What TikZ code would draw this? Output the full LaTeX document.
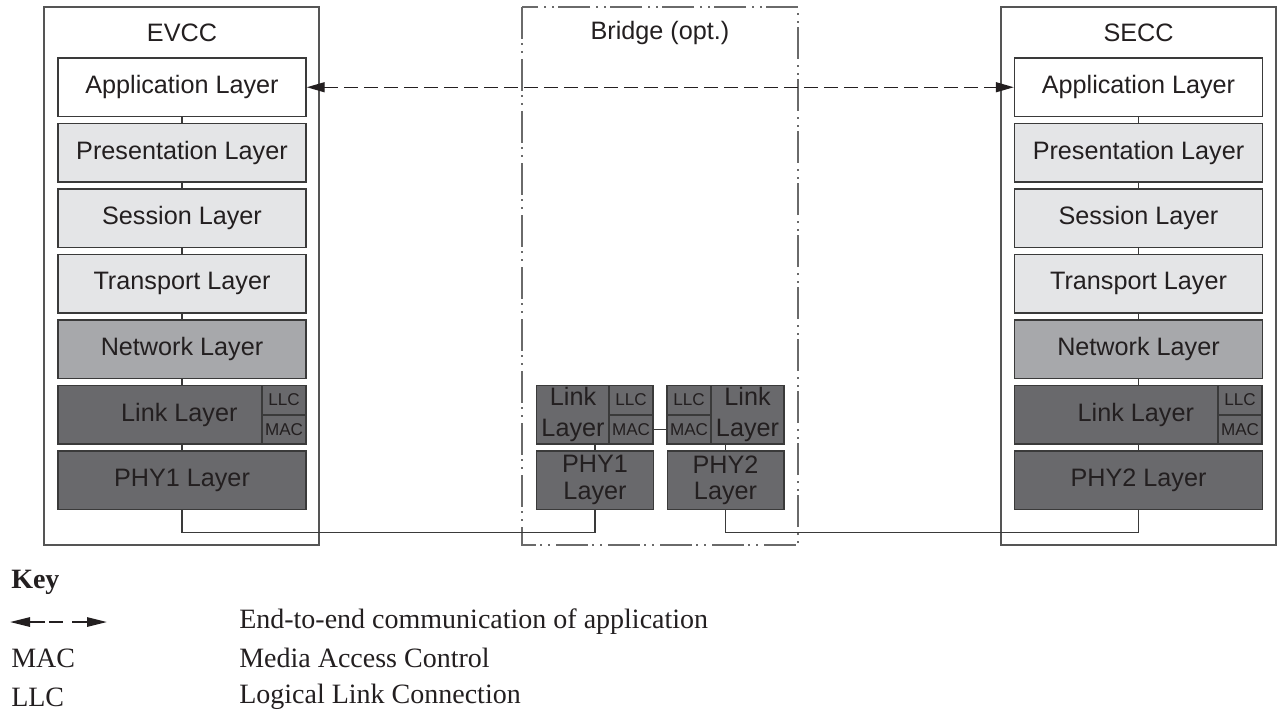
\documentclass[tikz,border=0pt]{standalone}
\usepackage{fontspec}
\setmainfont{Liberation Serif}
\newfontfamily\diagfont{Liberation Sans}
\usetikzlibrary{arrows.meta}
\definecolor{txt}{HTML}{231F20}
\definecolor{bord}{HTML}{3A3A3A}
\definecolor{outerc}{HTML}{555555}
\definecolor{bridgec}{HTML}{6A6A6A}
\definecolor{lgray}{HTML}{E4E5E7}
\definecolor{mgray}{HTML}{A7A8AB}
\definecolor{dgray}{HTML}{69696C}
\begin{document}
\begin{tikzpicture}[x=0.75pt,y=-0.75pt,
  bigfont/.style={font=\diagfont\fontsize{18.9}{22}\selectfont},
  layer/.style={draw=bord, line width=1.1pt, minimum width=186pt, minimum height=43.875pt, inner sep=0pt, bigfont, text=txt},
  applayer/.style={layer, fill=white},
  upperlayer/.style={layer, fill=lgray},
  netlayer/.style={layer, fill=mgray},
  lowlayer/.style={layer, fill=dgray},
  smallbox/.style={draw=bord, line width=1.1pt, fill=dgray, minimum width=33pt, minimum height=21.94pt, inner sep=0pt, text=txt, font=\diagfont\fontsize{12.8}{14}\selectfont},
  bridgebox/.style={draw=bord, line width=1.1pt, fill=dgray, minimum width=87.4pt, minimum height=43.875pt, inner sep=0pt, text=txt, bigfont, align=center},
  btext/.style={inner sep=0pt, text=txt, align=center, font=\diagfont\fontsize{18.9}{23}\selectfont},
  outerbox/.style={draw=outerc, line width=1pt},
  bridgeline/.style={draw=bridgec, line width=1.3pt, dash pattern=on 24pt off 3pt on 1.5pt off 4.5pt on 1.5pt off 4.5pt},
  conn/.style={draw=bord, line width=1pt},
  e2e/.style={draw=txt, line width=1.1pt, dash pattern=on 10pt off 5pt, {Triangle[length=13.5pt,width=7.5pt]}-{Triangle[length=13.5pt,width=7.5pt]}},
  keyline/.style={draw=txt, line width=1.4pt},
  keytext/.style={anchor=west, inner sep=0pt, text=txt, font=\fontsize{21}{24}\selectfont}
]
\useasboundingbox (0,0) rectangle (1280,713);

% outer boxes
\draw[outerbox] (44,7) rectangle (319,545);
\draw[outerbox] (1001,7) rectangle (1276,545);
\draw[bridgeline] (522,7) rectangle (798,545);

\node[bigfont, text=txt] (evcct) at (182,33) {EVCC};
\node[bigfont, text=txt] (secct) at (1138.5,33) {SECC};
\node[bigfont, text=txt] (bridget) at (660,33) {Bridge (opt.)};

% EVCC stack
\node[applayer]   (e1) at (182,87.25)  {Application Layer};
\node[upperlayer] (e2) at (182,152.75) {Presentation Layer};
\node[upperlayer] (e3) at (182,218.25) {Session Layer};
\node[upperlayer] (e4) at (182,283.75) {Transport Layer};
\node[netlayer]   (e5) at (182,349.25) {Network Layer};
\node[lowlayer]   (e6) at (182,414.75) {\hspace*{-4pt}Link Layer};
\node[lowlayer]   (e7) at (182,480.25) {PHY1 Layer};
\node[smallbox]   (ellc) at (284,400.1) {LLC};
\node[smallbox]   (emac) at (284,429.4) {MAC};

% SECC stack
\node[applayer]   (s1) at (1138.5,87.25)  {Application Layer};
\node[upperlayer] (s2) at (1138.5,152.75) {Presentation Layer};
\node[upperlayer] (s3) at (1138.5,218.25) {Session Layer};
\node[upperlayer] (s4) at (1138.5,283.75) {Transport Layer};
\node[netlayer]   (s5) at (1138.5,349.25) {Network Layer};
\node[lowlayer]   (s6) at (1138.5,414.75) {\hspace*{-4pt}Link Layer};
\node[lowlayer]   (s7) at (1138.5,480.25) {PHY2 Layer};
\node[smallbox]   (sllc) at (1240,400.1) {LLC};
\node[smallbox]   (smac) at (1240,429.4) {MAC};

% bridge stacks
\node[bridgebox] (bl1) at (595,414.75) {};
\node[bridgebox] (bp1) at (595,480.25) {PHY1\\[-2pt]Layer};
\node[smallbox]  (bllc1) at (631,400.1) {LLC};
\node[smallbox]  (bmac1) at (631,429.4) {MAC};
\node[btext]     (blt1) at (573,414.75) {Link\\Layer};

\node[bridgebox] (bl2) at (725.5,414.75) {};
\node[bridgebox] (bp2) at (725.5,480.25) {PHY2\\[-2pt]Layer};
\node[smallbox]  (bllc2) at (689,400.1) {LLC};
\node[smallbox]  (bmac2) at (689,429.4) {MAC};
\node[btext]     (blt2) at (747.5,414.75) {Link\\Layer};

% vertical connectors between layers
\foreach \a/\b in {e1/e2,e2/e3,e3/e4,e4/e5,e5/e6,e6/e7,s1/s2,s2/s3,s3/s4,s4/s5,s5/s6,s6/s7,bl1/bp1,bl2/bp2}
  \draw[conn] (\a.south) -- (\b.north);
\draw[conn] (bmac1.east) -- (bmac2.west);

% physical connections
\draw[conn] (e7.south) -- ++(0,22) -| (bp1.south);
\draw[conn] (s7.south) -- ++(0,22) -| (bp2.south);

% end-to-end arrow
\draw[e2e] (e1.east) -- (s1.west);

% key
\node[anchor=west, inner sep=0pt, text=txt, font=\bfseries\fontsize{21}{24}\selectfont] (keyt) at (11,582) {Key};
\coordinate (ka) at (10,622);
\coordinate (kb) at (45,622);
\coordinate (kc) at (49,622);
\coordinate (kd) at (63,622);
\coordinate (ke) at (72,622);
\coordinate (kf) at (107,622);
\draw[keyline, -{Triangle[length=15pt,width=7pt]}] (kb) -- (ka);
\draw[keyline] (kc) -- (kd);
\draw[keyline, -{Triangle[length=15pt,width=7pt]}] (ke) -- (kf);
\node[keytext] (k1) at (239,622) {End-to-end communication of application};
\node[keytext] (k2a) at (11,658) {MAC};
\node[keytext] (k2) at (239,658) {Media Access Control};
\node[keytext] (k3a) at (11,697) {LLC};
\node[keytext] (k3) at (239,697) {Logical Link Connection};
\end{tikzpicture}
\end{document}
